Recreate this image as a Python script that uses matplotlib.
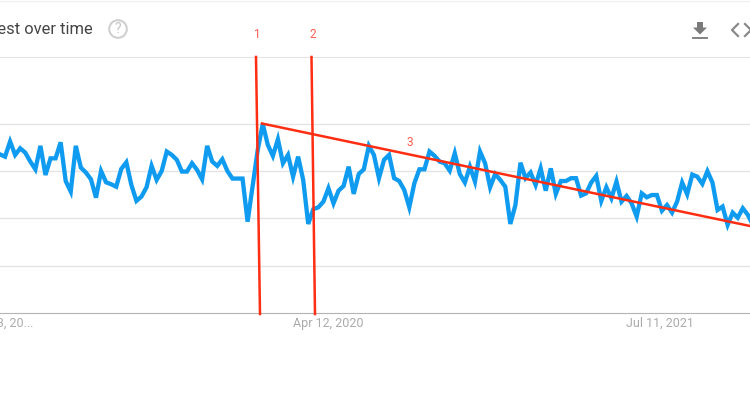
#!/usr/bin/env python
import pandas as pd
import matplotlib
matplotlib.use('Agg')
import matplotlib.pyplot as plt
from matplotlib.patches import Circle, Polygon

plt.rcParams['font.family'] = ['Roboto', 'DejaVu Sans']

# weekly search interest
interest = [83.9, 82.7, 90.7, 83.6, 87.1, 84.8, 80.1, 76, 88.4, 73, 81.8, 81.8, 90.3,
            69.8, 64.2, 88.4, 76.9, 74.3, 70.7, 61, 75.1, 69.1, 68.1, 66.8, 76.2, 79.7,
            67.7, 59.3, 61.6, 66.5, 77.8, 70.4, 75.1, 85.4, 83.6, 81, 74.8, 74.8, 79.2,
            75.7, 70.7, 88.4, 80.1, 77.8, 81.3, 75.1, 71.1, 71.1, 71.1, 48.3, 67.2, 86.2,
            100, 88.9, 83.1, 91.9, 79.2, 83.6, 72.1, 82.7, 70.4, 47.1, 54.9, 55.9, 58.9,
            66, 58, 64.7, 67.2, 77.4, 63, 73.5, 76, 88.4, 83.6, 71.3, 81, 83.6, 71.3,
            69.8, 65.1, 55.9, 68.6, 76, 76, 85.4, 83.1, 80.1, 79.2, 75.3, 84.5, 73.5, 69,
            77.4, 69.5, 85.4, 79.2, 66.5, 73.5, 70.4, 66.8,
            47.1, 57.1, 79.5, 71.3, 74.3, 67.7, 76.5, 64.7, 76.5, 63, 69.8, 69.8, 71.3,
            71.3, 62.1, 63.3, 69, 72.5, 59.3, 66.5, 60.7, 69.5, 58.9, 61.9, 58, 51, 63.3,
            61.2, 62.4, 62.4, 54.1, 57.1, 53.1, 58.9, 69, 62.8, 73.2, 72.1, 68.3, 75, 69,
            54.5, 56.3, 46.6, 53.1, 50.4, 55.4, 51.9, 46.6]
weeks = pd.date_range('2019-01-13', periods=len(interest), freq='7D')
tick_dates = pd.to_datetime(['2019-01-13', '2020-04-12', '2021-07-11'])
tick_labels = ['Jan 13, 20...', 'Apr 12, 2020', 'Jul 11, 2021']
grid_values = [25, 50, 75, 100]

fig = plt.figure(figsize=(7.5, 4), dpi=100)
ax = fig.add_axes([0, 87 / 400, 1, 256 / 400])
ax.plot(weeks, interest, color='#0f9bf0', lw=3.1, solid_joinstyle='miter', zorder=3)
ax.set_xlim(pd.Timestamp('2019-01-13'), pd.Timestamp('2019-01-13') + pd.Timedelta(days=1039))
ax.set_ylim(0, 135.4)
ax.set_yticks(grid_values)
ax.set_xticks([])
ax.tick_params(left=False, labelleft=False)
ax.grid(axis='y', color='#e4e4e4', lw=1)
ax.set_axisbelow(True)
for s in ['left', 'right']:
    ax.spines[s].set_visible(False)
ax.spines['top'].set_color('#e4e4e4')
ax.spines['bottom'].set_color('#b4b4b4')
for d, lab, dx in zip(tick_dates, tick_labels, [0, 0, 2]):
    ax.annotate(lab, (d, 0), xytext=(dx, -7.5), textcoords='offset points', ha='center', va='center',
                color='#ababab', fontsize=9, annotation_clip=False)

# overlay in pixel coordinates for the hand drawn marks and the header
top = fig.add_axes([0, 0, 1, 1], zorder=5)
top.set_xlim(0, 750)
top.set_ylim(400, 0)
top.axis('off')
top.patch.set_alpha(0)

red = '#ff2d12'
top.plot([256, 260], [57, 314], color=red, lw=1.8)
top.plot([311.5, 315], [57, 314], color=red, lw=1.8)
top.plot([262, 750], [123.5, 226], color=red, lw=1.8)
for x, y, t in [(257, 35, '1'), (312.5, 35, '2'), (410, 142, '3')]:
    top.text(x, y, t, color='#ff5a50', fontsize=8.5, ha='center', va='center')

top.plot([0, 750], [0.5, 0.5], color='#f0f0f0', lw=1)
top.text(93, 29, 'Interest over time', color='#444444', fontsize=11.9, ha='right', va='center')
top.add_patch(Circle((118, 29), 8.8, fill=False, ec='#cfcfcf', lw=1.5))
top.text(118, 29, '?', color='#c4c4c4', fontsize=10, ha='center', va='center')

# download and embed icons
top.add_patch(Polygon([(697, 22), (703, 22), (703, 27.5), (707, 27.5), (700, 34.5), (693, 27.5), (697, 27.5)],
                      fc='#7a7a7a', ec='none'))
top.plot([693, 707], [37.5, 37.5], color='#7a7a7a', lw=1.3)
top.plot([738, 732, 738], [24, 30, 36], color='#8a8a8a', lw=1.6)
top.plot([745, 751, 745], [24, 30, 36], color='#8a8a8a', lw=1.6)

fig.savefig('out.png', dpi=100)
